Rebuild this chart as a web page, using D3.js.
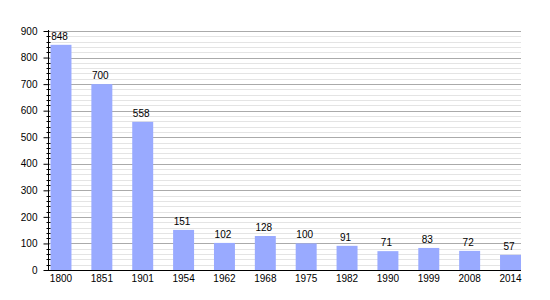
<!DOCTYPE html>
<html><head><meta charset="utf-8">
<script src="https://cdn.jsdelivr.net/npm/d3@7"></script>
<style>body{margin:0;background:#fff}svg{display:block}text{font-family:"Liberation Sans",Arial,sans-serif}</style>
</head><body><svg id="c" width="550" height="300"></svg>
<script>
const years = ["1800","1851","1901","1954","1962","1968","1975","1982","1990","1999","2008","2014"];
const population = [848,700,558,151,102,128,100,91,71,83,72,57];
const yTicks = [0,100,200,300,400,500,600,700,800,900];

(function () {
const svg = d3.select("#c");
const mLeft = 48, mRight = 521, mTop = 31, mBottom = 270;
const FONT = "Liberation Sans, Arial, sans-serif";
const x = d3.scaleBand().domain(years).range([50.5, mRight]).paddingInner(0.487).paddingOuter(0);
const y = d3.scaleLinear().domain([0, 900]).range([mBottom, mTop]);

// minor gridlines
const minor = d3.range(0, 901, 20).filter(v => v % 100 !== 0);
svg.append("g").selectAll("line").data(minor).join("line")
  .attr("x1", mLeft).attr("x2", mRight).attr("y1", d => Math.round(y(d)) + 0.5).attr("y2", d => Math.round(y(d)) + 0.5)
  .attr("stroke", "#e4e4e4").attr("stroke-width", 1);
svg.append("g").selectAll("line").data(yTicks.filter(v => v > 0)).join("line")
  .attr("x1", mLeft).attr("x2", mRight).attr("y1", d => Math.round(y(d)) + 0.5).attr("y2", d => Math.round(y(d)) + 0.5)
  .attr("stroke", "#aaaaaa").attr("stroke-width", 1);

// bars
svg.append("g").selectAll("rect").data(population).join("rect")
  .attr("x", (d, i) => x(years[i])).attr("width", x.bandwidth())
  .attr("y", d => y(d)).attr("height", d => mBottom - y(d))
  .attr("fill", "#99aaff");

// value labels
svg.append("g").selectAll("text").data(population).join("text")
  .attr("x", (d, i) => x(years[i]) + x.bandwidth() / 2 - 1.5).attr("y", d => y(d) - 5)
  .attr("text-anchor", "middle").attr("font-size", 10).attr("font-family", FONT).attr("fill", "#000")
  .text(d => d);

// y axis
const ya = svg.append("g").attr("transform", `translate(${mLeft + 0.5},0)`)
  .call(d3.axisLeft(y).tickValues(yTicks).tickSize(5).tickPadding(6));
ya.select(".domain").attr("stroke", "#000").attr("d", `M0,${mTop - 1}V${mBottom}`);
ya.selectAll(".tick line").attr("x2", -5).attr("x1", 1);
ya.selectAll("text").attr("font-size", 10).attr("font-family", FONT).attr("fill", "#000");
svg.append("g").attr("transform", `translate(${mLeft + 0.5},0)`)
  .selectAll("line").data(minor).join("line")
  .attr("x1", -2).attr("x2", 2).attr("y1", d => Math.round(y(d)) + 0.5).attr("y2", d => Math.round(y(d)) + 0.5)
  .attr("stroke", "#000");

// x axis
const xa = svg.append("g").attr("transform", `translate(0,${mBottom + 0.5})`)
  .call(d3.axisBottom(x).tickSize(0).tickPadding(4));
xa.select(".domain").attr("d", `M${mLeft},0H${mRight}`).attr("stroke", "#000");
xa.selectAll("text").attr("font-size", 10).attr("font-family", FONT).attr("fill", "#000");
})();
</script></body></html>
